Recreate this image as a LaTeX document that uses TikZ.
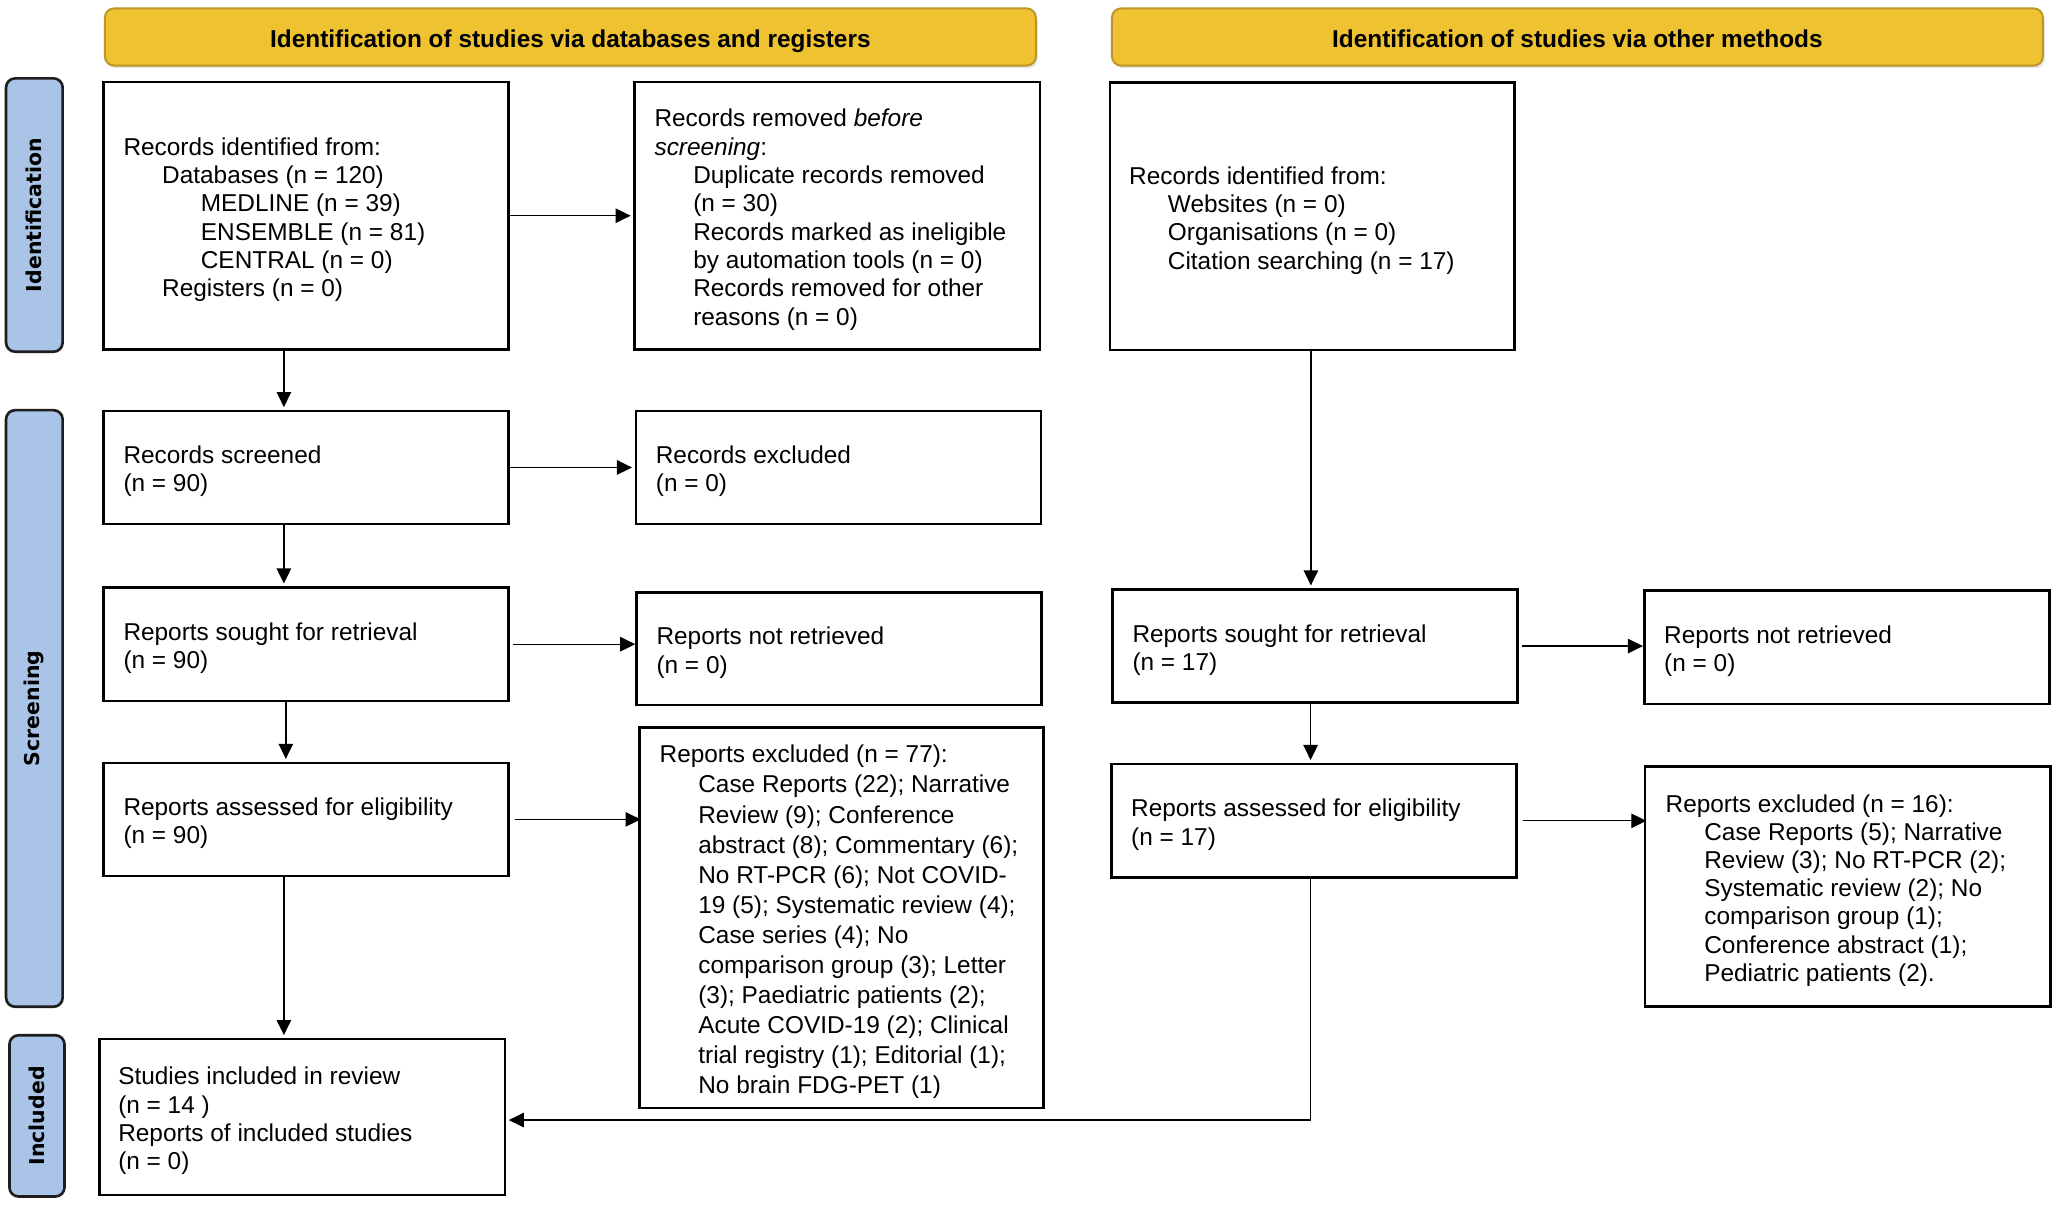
\documentclass[tikz,border=0pt]{standalone}
\usepackage{fontspec}
\setmainfont{Liberation Sans}
\newfontfamily\sidefont{DejaVu Sans}
\usetikzlibrary{arrows.meta,calc}
\definecolor{hdrfill}{HTML}{EFC232}
\definecolor{hdrline}{HTML}{BE9628}
\definecolor{sidefill}{HTML}{A9C4E7}
\definecolor{sideline}{HTML}{1E1E1E}
\newcommand\pind{\hspace*{29.5pt}}
\begin{document}
\begin{tikzpicture}[x=1pt,y=-1pt,
  pbox/.style={draw=black, line width=2pt, fill=white, inner sep=0pt},
  ptext/.style={anchor=west, align=left, inner sep=0pt, yshift=-3pt, font=\fontsize{18.6}{21.6}\selectfont},
  hdr/.style={draw=hdrline, line width=1.5pt, fill=hdrfill, rounded corners=7pt, inner sep=0pt,
    text height=19.9pt, text depth=3.9pt, font=\fontsize{18.6}{22}\selectfont\bfseries},
  side/.style={draw=sideline, line width=2pt, fill=sidefill, rounded corners=7pt, inner sep=0pt},
  sidetext/.style={rotate=90, inner sep=0pt, font=\sidefont\bfseries\fontsize{15.6}{18}\selectfont},
  arr/.style={line width=1pt, shorten >=2pt, -{Triangle[length=11.5pt,width=11pt]}}]

\useasboundingbox (0,0) rectangle (1568,919);
\fill[white] (0,0) rectangle (1568,919);

% headers
\fill[black!10, rounded corners=7pt] (81,8.5) rectangle (791.5,52);
\fill[black!10, rounded corners=7pt] (849,8.5) rectangle (1559.5,52);
\node[hdr, minimum width=710pt, minimum height=43.6pt] (H1) at (435,28.2)
  {Identification of studies via databases and registers};
\node[hdr, minimum width=710pt, minimum height=43.6pt] (H2) at (1203,28.2)
  {Identification of studies via other methods};

% side bars
\node[side, minimum width=43.2pt, minimum height=208.5pt] (S1) at (26.2,164) {};
\node[sidetext] (tS1) at (S1.center) {Identification};
\node[side, minimum width=43.2pt, minimum height=455pt] (S2) at (26.2,540.3) {};
\node[sidetext] (tS2) at (S2.center) {Screening};
\node[side, minimum width=42pt, minimum height=123pt] (S3) at (28.2,851) {};
\node[sidetext] (tS3) at (S3.center) {Included};

% boxes
\node[pbox, minimum width=309pt, minimum height=204pt] (A1) at (233.5,164.5) {};
\node[ptext] (tA1) at ([xshift=16pt]A1.west) {Records identified from:\\
\pind Databases (n = 120)\\
\pind\pind MEDLINE (n = 39)\\
\pind\pind ENSEMBLE (n = 81)\\
\pind\pind CENTRAL (n = 0)\\
\pind Registers (n = 0)};

\node[pbox, minimum width=309pt, minimum height=204pt] (A2) at (638.5,164.5) {};
\node[ptext] (tA2) at ([xshift=16pt]A2.west) {Records removed \textit{before}\\
\textit{screening}:\\
\pind Duplicate records removed\\
\pind (n = 30)\\
\pind Records marked as ineligible\\
\pind by automation tools (n = 0)\\
\pind Records removed for other\\
\pind reasons (n = 0)};

\node[pbox, minimum width=308.5pt, minimum height=204pt] (B1) at (1000.75,165) {};
\node[ptext] (tB1) at ([xshift=15.5pt]B1.west) {Records identified from:\\
\pind Websites (n = 0)\\
\pind Organisations (n = 0)\\
\pind Citation searching (n = 17)};

\node[pbox, minimum width=309pt, minimum height=86pt] (C1) at (233.5,356.5) {};
\node[ptext] (tC1) at ([xshift=16pt]C1.west) {Records screened\\(n = 90)};

\node[pbox, minimum width=309pt, minimum height=86pt] (C2) at (639.5,356.5) {};
\node[ptext] (tC2) at ([xshift=16pt]C2.west) {Records excluded\\(n = 0)};

\node[pbox, minimum width=309pt, minimum height=86.6pt] (D1) at (233.5,491.3) {};
\node[ptext] (tD1) at ([xshift=16pt]D1.west) {Reports sought for retrieval\\(n = 90)};

\node[pbox, minimum width=309pt, minimum height=86pt] (D2) at (640,494.7) {};
\node[ptext] (tD2) at ([xshift=16pt]D2.west) {Reports not retrieved\\(n = 0)};

\node[pbox, minimum width=309pt, minimum height=86.4pt] (D3) at (1003,492.7) {};
\node[ptext] (tD3) at ([xshift=16pt]D3.west) {Reports sought for retrieval\\(n = 17)};

\node[pbox, minimum width=309pt, minimum height=86.5pt] (D4) at (1408.5,493.7) {};
\node[ptext] (tD4) at ([xshift=16pt]D4.west) {Reports not retrieved\\(n = 0)};

\node[pbox, minimum width=309pt, minimum height=86.3pt] (E1) at (233.5,624.9) {};
\node[ptext] (tE1) at ([xshift=16pt]E1.west) {Reports assessed for eligibility\\(n = 90)};

\node[pbox, minimum width=308pt, minimum height=290pt] (E2) at (641.6,700) {};
\node[ptext, font=\fontsize{18.6}{22.9}\selectfont] (tE2) at ([xshift=16.3pt]E2.west) {Reports excluded (n = 77):\\
\pind Case Reports (22); Narrative\\
\pind Review (9); Conference\\
\pind abstract (8); Commentary (6);\\
\pind No RT-PCR (6); Not COVID-\\
\pind 19 (5); Systematic review (4);\\
\pind Case series (4); No\\
\pind comparison group (3); Letter\\
\pind (3); Paediatric patients (2);\\
\pind Acute COVID-19 (2); Clinical\\
\pind trial registry (1); Editorial (1);\\
\pind No brain FDG-PET (1)};

\node[pbox, minimum width=309pt, minimum height=86.7pt] (E3) at (1002,626) {};
\node[ptext] (tE3) at ([xshift=16pt]E3.west) {Reports assessed for eligibility\\(n = 17)};

\node[pbox, minimum width=309.4pt, minimum height=183pt] (E4) at (1409.3,676.2) {};
\node[ptext, font=\fontsize{18.6}{21.4}\selectfont] (tE4) at ([xshift=16.5pt]E4.west) {Reports excluded (n = 16):\\
\pind Case Reports (5); Narrative\\
\pind Review (3); No RT-PCR (2);\\
\pind Systematic review (2); No\\
\pind comparison group (1);\\
\pind Conference abstract (1);\\
\pind Pediatric patients (2).};

\node[pbox, minimum width=309pt, minimum height=119pt] (F1) at (230.5,851.9) {};
\node[ptext] (tF1) at ([xshift=15pt]F1.west) {Studies included in review\\
(n = 14 )\\
Reports of included studies\\
(n = 0)};

% connectors
\draw[arr] (A1.east) -- (A1.east -| A2.west);
\draw[arr] ([xshift=-17pt]A1.south) -- ([xshift=-17pt]A1.south |- C1.north);
\draw[arr] (C1.east) -- (C1.east -| C2.west);
\draw[arr] ([xshift=-17pt]C1.south) -- ([xshift=-17pt]C1.south |- D1.north);
\draw[arr] ([xshift=2pt]D1.east) -- ([xshift=2pt]D1.east -| D2.west);
\draw[arr] ([xshift=-15.5pt]D1.south) -- ([xshift=-15.5pt]D1.south |- E1.north);
\draw[arr] ([xshift=4pt]E1.east) -- ([xshift=4pt]E1.east -| E2.west);
\draw[arr] ([xshift=-17pt]E1.south) -- ([xshift=-17pt]E1.south |- F1.north);
\draw[arr] ([xshift=-1pt]B1.south) -- ([xshift=-1pt]B1.south |- D3.north);
\draw[arr] ([xshift=2pt]D3.east) -- ([xshift=2pt]D3.east -| D4.west);
\draw[arr] ([xshift=-3.5pt]D3.south) -- ([xshift=-3.5pt]D3.south |- E3.north);
\draw[arr] ([xshift=4pt]E3.east) -- ([xshift=4pt]E3.east -| E4.west);
\draw[arr] ([xshift=-2.5pt]E3.south) |- ([yshift=-2.3pt]F1.east);
\end{tikzpicture}
\end{document}
